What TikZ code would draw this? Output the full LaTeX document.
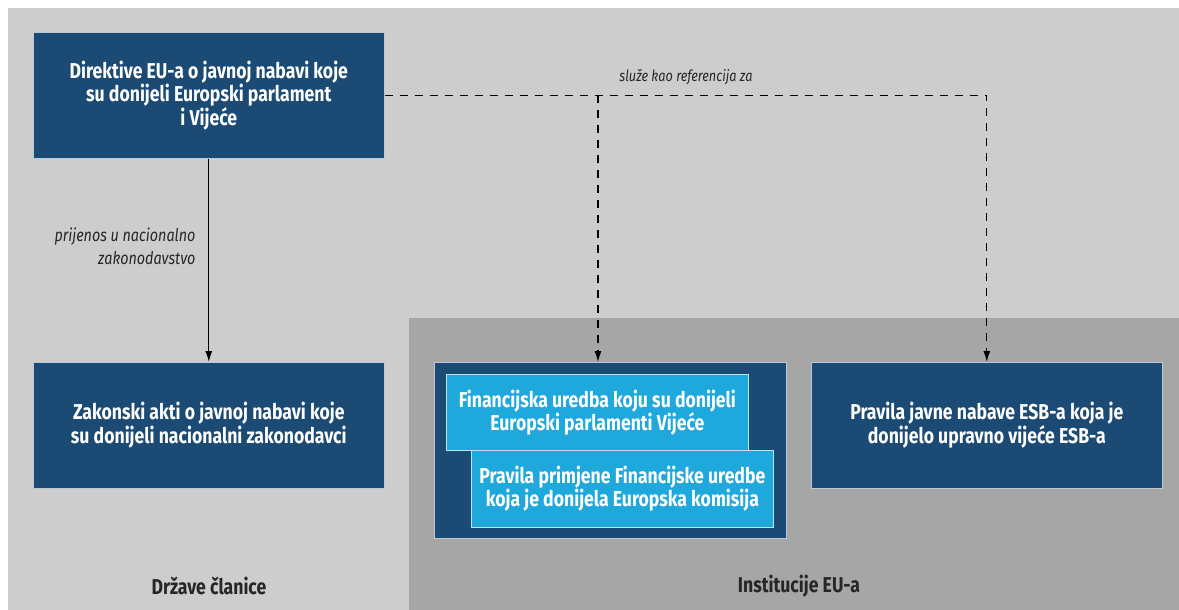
\documentclass[tikz,border=0pt]{standalone}
\usepackage{fontspec}
\setmainfont[FakeStretch=0.82]{Fira Sans}
\usetikzlibrary{arrows,arrows.meta,positioning}
\definecolor{bgl}{HTML}{CDCDCD}
\definecolor{bgd}{HTML}{A6A6A6}
\definecolor{navy}{HTML}{1B4A74}
\definecolor{cyanb}{HTML}{1FA8DC}
\tikzstyle{navybox}=[draw=white!70!navy,line width=0.6pt,fill=navy,text=white,align=center,font=\bfseries\fontsize{21.5}{23.5}\selectfont,inner sep=0pt,anchor=north west]
\tikzstyle{cyanbox}=[draw=white!70!cyanb,line width=0.8pt,fill=cyanb,text=white,align=center,font=\bfseries\fontsize{21.5}{23}\selectfont,inner sep=0pt,anchor=north west,minimum width=302pt,minimum height=76pt]
\tikzstyle{note}=[font=\itshape\fontsize{15}{19}\selectfont,text=black!85]
\tikzstyle{region}=[font=\fontsize{21.5}{23}\selectfont\bfseries,text=black!85]
\tikzstyle{link}=[line width=1.3pt,-{Latex[length=11pt,width=7pt]}]
\begin{document}
\begin{tikzpicture}[x=1pt,y=-1pt]
\useasboundingbox (0,0) rectangle (1179,610);
\fill[white] (0,0) rectangle (1179,610);
\fill[bgl] (8,8) rectangle (1179,610);
\fill[bgd] (409,318) rectangle (1179,610);
% boxes
\node[navybox,minimum width=351pt,minimum height=126pt] (a) at (33,32) {Direktive EU-a o javnoj nabavi koje\\su donijeli Europski parlament\\i Vijeće};
\node[navybox,minimum width=351pt,minimum height=126pt] (b) at (33,362) {Zakonski akti o javnoj nabavi koje\\su donijeli nacionalni zakonodavci};
\node[navybox,minimum width=352pt,minimum height=176pt] (d) at (434,362) {};
\node[cyanbox] (f1) at (446,374) {Financijska uredba koju su donijeli\\Europski parlamenti Vijeće};
\node[cyanbox,minimum height=77pt] (f2) at (471,450) {Pravila primjene Financijske uredbe\\koja je donijela Europska komisija};
\node[navybox,minimum width=351pt,minimum height=126pt] (e) at (811,362) {Pravila javne nabave ESB-a koja je\\donijelo upravno vijeće ESB-a};
% region labels
\node[region] (ms) at (209,586) {Države članice};
\node[region] (eu) at (799,586) {Institucije EU-a};
% connectors
\draw[link] (a) -- (b);
\node[note,font=\itshape\fontsize{17.5}{23}\selectfont,align=right,anchor=east] (t) at (199,246) {prijenos u nacionalno\\zakonodavstvo};
\coordinate (r) at (598,95);
\draw[link,dash pattern=on 8pt off 7pt] (a.east) -| (e.north);
\draw[link,dash pattern=on 8pt off 7pt] (r) -- (r |- d.north);
\node[note,font=\itshape\fontsize{15.5}{19}\selectfont] (s) at (686,77) {služe kao referencija za};
\end{tikzpicture}
\end{document}
